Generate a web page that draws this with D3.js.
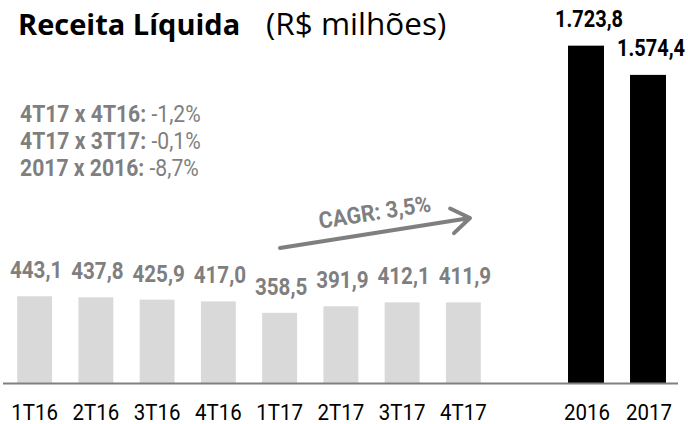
<!DOCTYPE html>
<html>
<head>
<meta charset="utf-8">
<script src="https://cdn.jsdelivr.net/npm/d3@7"></script>
<style>
  body { margin: 0; background: #fff; }
  svg { display: block; }
</style>
</head>
<body>
<div id="chart"></div>
<script>
const quarters = ["1T16", "2T16", "3T16", "4T16", "1T17", "2T17", "3T17", "4T17"];
const quarterValues = [443.1, 437.8, 425.9, 417.0, 358.5, 391.9, 412.1, 411.9];
const years = ["2016", "2017"];
const yearValues = [1723.8, 1574.4];
const notes = [
    {bold: "4T17 x 4T16: ", value: "-1,2%"},
    {bold: "4T17 x 3T17: ", value: "-0,1%"},
    {bold: "2017 x 2016: ", value: "-8,7%"}
];
const cagrLabel = "CAGR: 3,5%";

const fmt = d3.formatLocale({decimal: ",", thousands: ".", grouping: [3], currency: ["R$", ""]}).format(",.1f");

const width = 688, height = 424;
const baseY = 383;
const grey = "#7f7f7f";

const svg = d3.select("#chart")
    .append("svg")
    .attr("width", width)
    .attr("height", height);

const yScale = d3.scaleLinear()
    .domain([0, 1800])
    .range([baseY, baseY - 1800 * 0.1957]);

const xQ = d3.scaleBand()
    .domain(quarters)
    .range([4, 494])
    .paddingInner(0.43)
    .paddingOuter(0.215);

const xY = d3.scaleBand()
    .domain(years)
    .range([555, 679])
    .paddingInner(0.42)
    .paddingOuter(0.21);

// condensed text helper (no Roboto Condensed installed)
function label(g, x, y, txt, sx) {
    return g.append("text")
        .attr("transform", `translate(${x},${y}) scale(${sx},1)`)
        .attr("text-anchor", "middle")
        .text(txt);
}

// title
const title = svg.append("text")
    .attr("x", 18)
    .attr("y", 35)
    .style("font-family", "'Open Sans', sans-serif")
    .attr("fill", "#000");
title.append("tspan").style("font-weight", "700").style("font-size", "29px").text("Receita Líquida");
title.append("tspan").attr("x", 266).style("font-size", "31.5px").text("(R$ milhões)");

// quarter bars
svg.append("g")
    .selectAll("rect")
    .data(quarterValues)
    .join("rect")
    .attr("x", (d, i) => xQ(quarters[i]))
    .attr("y", d => yScale(d))
    .attr("width", xQ.bandwidth())
    .attr("height", d => baseY - yScale(d))
    .attr("fill", "#d9d9d9");

// year bars
svg.append("g")
    .selectAll("rect")
    .data(yearValues)
    .join("rect")
    .attr("x", (d, i) => xY(years[i]))
    .attr("y", d => yScale(d))
    .attr("width", xY.bandwidth())
    .attr("height", d => baseY - yScale(d))
    .attr("fill", "#000");

// value labels
const qLab = svg.append("g")
    .style("font-family", "Roboto, sans-serif")
    .style("font-weight", "700")
    .style("font-size", "24px")
    .attr("fill", grey);
quarterValues.forEach((d, i) => {
    label(qLab, xQ(quarters[i]) + xQ.bandwidth() / 2 + 1.5, yScale(d) - 18, fmt(d), 0.86);
});

const yLab = svg.append("g")
    .style("font-family", "Roboto, sans-serif")
    .style("font-weight", "700")
    .style("font-size", "23px")
    .attr("fill", "#000");
yearValues.forEach((d, i) => {
    label(yLab, xY(years[i]) + xY.bandwidth() / 2 + 3, yScale(d) - 19, fmt(d), 0.87);
});

// baseline
svg.append("line")
    .attr("x1", 3).attr("x2", 678)
    .attr("y1", baseY + 0.5).attr("y2", baseY + 0.5)
    .attr("stroke", "#808080")
    .attr("stroke-width", 2);

// x labels
const xLab = svg.append("g")
    .style("font-family", "Roboto, sans-serif")
    .style("font-size", "22px")
    .attr("fill", "#000");
quarters.forEach(q => label(xLab, xQ(q) + xQ.bandwidth() / 2, 420, q, 0.93));
years.forEach(y => label(xLab, xY(y) + xY.bandwidth() / 2 + 1, 420, y, 0.93));

// notes
const noteG = svg.append("g")
    .style("font-family", "Roboto, sans-serif")
    .style("font-size", "23px")
    .attr("fill", grey);
notes.forEach((n, i) => {
    const t = noteG.append("text")
        .attr("transform", `translate(20,${122 + i * 27}) scale(0.92,1)`);
    t.append("tspan").style("font-weight", "700").text(n.bold);
    t.append("tspan").text(n.value);
});

// CAGR arrow
const arrow = {x1: 280, y1: 248, x2: 470, y2: 218};
const ang = Math.atan2(arrow.y2 - arrow.y1, arrow.x2 - arrow.x1);
const headLen = 22, headAng = 0.6;
svg.append("path")
    .attr("d", d3.line()([
        [arrow.x1, arrow.y1], [arrow.x2, arrow.y2]
    ]) + d3.line()([
        [arrow.x2 - headLen * Math.cos(ang - headAng), arrow.y2 - headLen * Math.sin(ang - headAng)],
        [arrow.x2, arrow.y2],
        [arrow.x2 - headLen * Math.cos(ang + headAng), arrow.y2 - headLen * Math.sin(ang + headAng)]
    ]))
    .attr("fill", "none")
    .attr("stroke", grey)
    .attr("stroke-width", 4)
    .attr("stroke-linecap", "round")
    .attr("stroke-linejoin", "round");

svg.append("text")
    .attr("transform", `translate(376,220) rotate(${ang * 180 / Math.PI}) scale(0.93,1)`)
    .attr("text-anchor", "middle")
    .style("font-family", "Roboto, sans-serif")
    .style("font-weight", "700")
    .style("font-size", "23px")
    .attr("fill", grey)
    .text(cagrLabel);
</script>
</body>
</html>
